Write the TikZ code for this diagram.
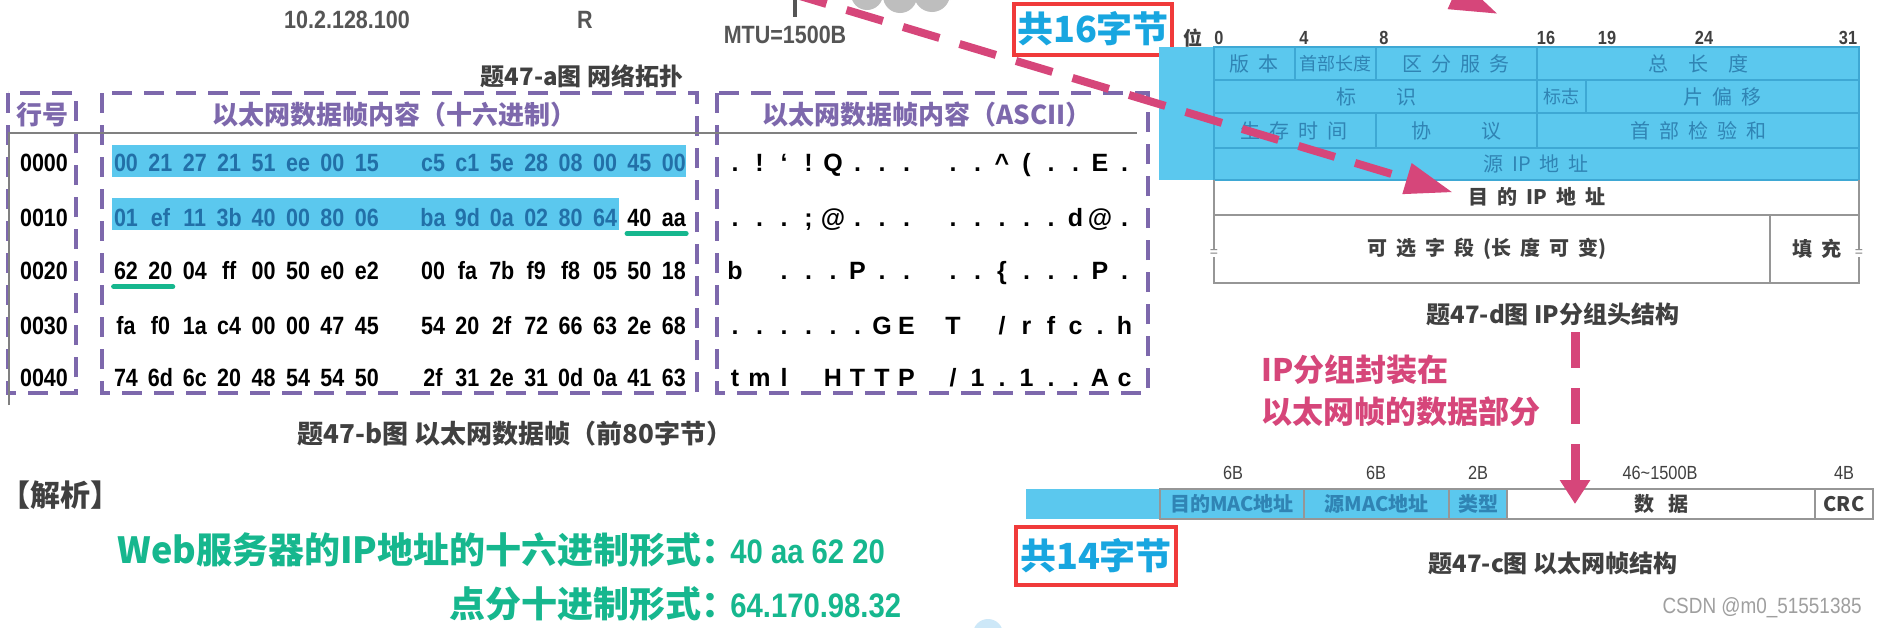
\documentclass[tikz,border=0pt]{standalone}
\usepackage{fontspec}
\setmainfont{Liberation Sans}
\newfontfamily\cjk{Noto Sans CJK SC}
\newfontfamily\narrowsans[FakeStretch=0.86]{Liberation Sans}
\usetikzlibrary{arrows.meta}

\definecolor{ipblue}{RGB}{91,200,238}
\definecolor{ipline}{RGB}{62,168,212}
\definecolor{iptext}{RGB}{48,132,180}
\definecolor{hexblue}{RGB}{34,112,168}
\definecolor{framepurple}{RGB}{125,104,172}
\definecolor{markpink}{RGB}{214,70,122}
\definecolor{ansgreen}{RGB}{22,183,142}
\definecolor{capgray}{RGB}{64,64,64}
\definecolor{boxred}{RGB}{240,58,58}
\definecolor{countblue}{RGB}{24,166,224}
\definecolor{cellgray}{RGB}{150,150,150}
\definecolor{cloudgray}{RGB}{190,190,190}
\definecolor{topogray}{RGB}{85,85,85}
\definecolor{blobblue}{RGB}{205,232,248}

\newcommand{\ipgap}{\hspace{0.45em}}

\tikzset{
  purplebox/.style={draw=framepurple, line width=2pt, dash pattern=on 10pt off 6pt},
  purplehead/.style={font=\cjk\bfseries\fontsize{13}{15}\selectfont, text=framepurple, inner sep=0pt},
  caption/.style={font=\cjk\bfseries\fontsize{12}{14}\selectfont, text=capgray, inner sep=0pt},
  topotext/.style={font=\narrowsans\bfseries\fontsize{12.5}{14}\selectfont, text=topogray, inner sep=0pt},
  rowlab/.style={font=\narrowsans\bfseries\fontsize{12.5}{14}\selectfont, inner sep=0pt, anchor=base},
  hexbyte/.style={font=\narrowsans\bfseries\fontsize{12.5}{14}\selectfont, inner sep=0pt, anchor=base},
  asciichar/.style={font=\bfseries\fontsize{12.5}{14}\selectfont, inner sep=0pt, anchor=base},
  greenmark/.style={ansgreen, line width=2.5pt, line cap=round},
  bitlab/.style={font=\narrowsans\bfseries\fontsize{9.5}{11}\selectfont, text=capgray, inner sep=0pt},
  iptxt/.style={font=\cjk\fontsize{10}{12}\selectfont, text=iptext, inner sep=0pt},
  ipdark/.style={font=\cjk\bfseries\fontsize{10}{12}\selectfont, text=capgray, inner sep=0pt},
  breakmark/.style={fill=white, inner sep=0.5pt, font=\fontsize{7}{8}\selectfont, text=gray},
  ethcell/.style={draw=cellgray, line width=0.8pt, minimum height=15pt, inner sep=0pt,
    font=\cjk\bfseries\fontsize{10}{12}\selectfont, text=capgray},
  ethblue/.style={ethcell, fill=ipblue, text=iptext},
  sizelab/.style={font=\narrowsans\fontsize{9.5}{11}\selectfont, text=capgray, inner sep=0pt},
  countbox/.style={draw=boxred, line width=2pt, text=countblue, inner sep=0pt,
    font=\cjk\bfseries\fontsize{18}{20}\selectfont, minimum width=79pt, minimum height=25.5pt},
  pinknote/.style={font=\cjk\bfseries\fontsize{15.5}{21}\selectfont, text=markpink, align=left, inner sep=0pt},
  answer/.style={font=\cjk\bfseries\fontsize{18}{20}\selectfont, text=ansgreen, inner sep=0pt},
  ansval/.style={font=\narrowsans\bfseries\fontsize{17}{19}\selectfont, text=ansgreen, inner sep=0pt},
  pinkarrow/.style={markpink, line width=4pt, dash pattern=on 19pt off 10.5pt,
    -{Triangle[length=24pt,width=15pt]}},
  vpinkarrow/.style={markpink, line width=4.5pt, dash pattern=on 18pt off 10pt,
    -{Triangle[length=12pt,width=14.5pt]}}
}

\begin{document}
\begin{tikzpicture}[x=0.5pt,y=-0.5pt]
\useasboundingbox (0,0) rectangle (1877,627);
\fill[white] (0,0) rectangle (1877,627);
\clip (0,0) rectangle (1877,627);

% network topology (cut off at the top)
\fill[cloudgray] (867,-6) circle[radius=16] (900,-4) circle[radius=17]
  (932,-6) circle[radius=18] (950,-12) circle[radius=12] (905,-20) circle[radius=22];
\node[topotext] (hostip) at (347,20) {10.2.128.100};
\node[topotext] (router) at (585,20) {R};
\node[topotext] (mtu) at (785,35) {MTU=1500B};
\coordinate (linktop) at (795,0);
\coordinate (linkend) at (795,17);
\draw[topogray, line width=1.7pt] (linktop) -- (linkend);
\node[caption] (capa) at (582,76) {题47-a图 网络拓扑};

% frame dump
\draw[purplebox] (8,93) rectangle (76,393);
\draw[purplebox] (102,93) rectangle (697,393);
\draw[purplebox] (717,93) rectangle (1148,393);
\draw[gray, line width=0.6pt] (9,405) -- (9,133) -- (1137,133);
\node[purplehead] (hrow) at (43,115) {行号};
\node[purplehead] (hhex) at (394,115) {以太网数据帧内容（十六进制）};
\node[purplehead] (hasc) at (927,115) {以太网数据帧内容（ASCII）};

\fill[ipblue] (112,145) rectangle (686,177);
\fill[ipblue] (112,198) rectangle (619,230);

\foreach \lab/\yy/\nb/\bytes in {
  0000/162/16/{00,21,27,21,51,ee,00,15,c5,c1,5e,28,08,00,45,00},
  0010/217/14/{01,ef,11,3b,40,00,80,06,ba,9d,0a,02,80,64,40,aa},
  0020/270/0/{62,20,04,ff,00,50,e0,e2,00,fa,7b,f9,f8,05,50,18},
  0030/325/0/{fa,f0,1a,c4,00,00,47,45,54,20,2f,72,66,63,2e,68},
  0040/377/0/{74,6d,6c,20,48,54,54,50,2f,31,2e,31,0d,0a,41,63}}{
  \node[rowlab] (r\lab) at (44,\yy+9) {\lab};
  \foreach \b [count=\k from 0] in \bytes {
    \ifnum\k<\nb \def\bcol{hexblue}\else\def\bcol{black}\fi
    \pgfmathsetmacro{\bx}{126+34.4*\k+31.8*(\k>7)}
    \node[hexbyte, text=\bcol] (b\lab-\k) at (\bx,\yy+9) {\b};
  }
}
\draw[greenmark] ([yshift=-3.5pt]b0010-14.south west) -- ([yshift=-3.5pt]b0010-15.south east);
\draw[greenmark] ([yshift=-3.5pt]b0020-0.south west) -- ([yshift=-3.5pt]b0020-1.south east);

% ASCII column
\foreach \c [count=\k from 0] in {.,!,‘,!,Q,.,.,.,.,.,\textasciicircum,{(},.,.,E,.}
  {\pgfmathsetmacro{\ax}{735+24.5*\k+22*(\k>7)} \node[asciichar] (a0000-\k) at (\ax,171) {\c};}
\foreach \c [count=\k from 0] in {.,.,.,;,@,.,.,.,.,.,.,.,.,d,@,.}
  {\pgfmathsetmacro{\ax}{735+24.5*\k+22*(\k>7)} \node[asciichar] (a0010-\k) at (\ax,226) {\c};}
\foreach \c [count=\k from 0] in {b,{},.,.,.,P,.,.,.,.,\{,.,.,.,P,.}
  {\pgfmathsetmacro{\ax}{735+24.5*\k+22*(\k>7)} \node[asciichar] (a0020-\k) at (\ax,279) {\c};}
\foreach \c [count=\k from 0] in {.,.,.,.,.,.,G,E,T,{},/,r,f,c,.,h}
  {\pgfmathsetmacro{\ax}{735+24.5*\k+22*(\k>7)} \node[asciichar] (a0030-\k) at (\ax,334) {\c};}
\foreach \c [count=\k from 0] in {t,m,l,{},H,T,T,P,/,1,.,1,.,.,A,c}
  {\pgfmathsetmacro{\ax}{735+24.5*\k+22*(\k>7)} \node[asciichar] (a0040-\k) at (\ax,386) {\c};}

\node[caption, font=\cjk\bfseries\fontsize{13}{15}\selectfont] (capb) at (515,434) {题47-b图 以太网数据帧（前80字节）};

% analysis
\node[font=\cjk\bfseries\fontsize{15}{17}\selectfont, text=capgray, inner sep=0pt, anchor=west] (analysis) at (0,495) {【解析】};
\node[answer, anchor=base east] (ansq) at (738,563) {Web服务器的IP地址的十六进制形式：};
\node[ansval, anchor=base west] (ansv) at (730,563) {40 aa 62 20};
\node[answer, anchor=base east] (dotq) at (738,617) {点分十进制形式：};
\node[ansval, anchor=base west] (dotv) at (730,617) {64.170.98.32};

% IP header
\node[countbox] (cnt16) at (1093,29) {共16字节};
\node[font=\cjk\bfseries\fontsize{9.5}{11}\selectfont, text=capgray, inner sep=0pt] (bitword) at (1193,38) {位};
\foreach \b/\x in {0/1219,4/1304,8/1384,16/1546,19/1607,24/1704,31/1848}
  \node[bitlab] (bit\b) at (\x,38) {\b};
\fill[ipblue] (1159,47) rectangle (1859,180);
\draw[ipline, line width=0.7pt] (1214,47) rectangle (1859,180)
  (1214,80) -- (1859,80) (1214,113) -- (1859,113) (1214,148) -- (1859,148)
  (1295,47) -- (1295,80) (1376,47) -- (1376,80) (1537,47) -- (1537,148)
  (1586,80) -- (1586,113) (1376,113) -- (1376,148);
\draw[cellgray, line width=0.7pt] (1214,180) -- (1214,283) -- (1859,283) -- (1859,180)
  (1214,215) -- (1859,215) (1770,215) -- (1770,283);
\node[iptxt] (ver) at (1254,64) {版\ipgap 本};
\node[iptxt, font=\cjk\fontsize{9}{11}\selectfont] (ihl) at (1335,64) {首部长度};
\node[iptxt] (tos) at (1456,64) {区\ipgap 分\ipgap 服\ipgap 务};
\node[iptxt] (totlen) at (1698,64) {总\hspace{1em}长\hspace{1em}度};
\node[iptxt] (ident) at (1376,97) {标\hspace{2em}识};
\node[iptxt, font=\cjk\fontsize{9}{11}\selectfont] (flags) at (1561,97) {标志};
\node[iptxt] (fragoff) at (1722,97) {片\ipgap 偏\ipgap 移};
\node[iptxt] (ttl) at (1294,131) {生\ipgap 存\ipgap 时\ipgap 间};
\node[iptxt] (proto) at (1456,131) {协\hspace{2.5em}议};
\node[iptxt] (hcksum) at (1698,131) {首\ipgap 部\ipgap 检\ipgap 验\ipgap 和};
\node[iptxt] (srcip) at (1536,164) {源\ipgap IP\ipgap 地\ipgap 址};
\node[ipdark] (dstip) at (1537,197) {目\ipgap 的\ipgap IP\ipgap 地\ipgap 址};
\node[ipdark] (opts) at (1487,249) {可\ipgap 选\ipgap 字\ipgap 段\ipgap (长\ipgap 度\ipgap 可\ipgap 变)};
\node[ipdark] (pad) at (1817,249) {填\ipgap 充};
\node[breakmark] (brkl) at (1214,253) {=};
\node[breakmark] (brkr) at (1859,253) {=};
\node[caption] (capd) at (1553,314) {题47-d图 IP分组头结构};

\node[pinknote, anchor=west] (encap) at (1261,391) {IP分组封装在\\以太网帧的数据部分};

% Ethernet frame
\node[sizelab] (sz1) at (1233,473) {6B};
\node[sizelab] (sz2) at (1376,473) {6B};
\node[sizelab] (sz3) at (1478,473) {2B};
\node[sizelab] (sz4) at (1660,473) {46\textasciitilde1500B};
\node[sizelab] (sz5) at (1844,473) {4B};
\fill[ipblue] (1026,489) rectangle (1160,519);
\node[ethblue, minimum width=72pt] (dmac) at (1232,504) {目的MAC地址};
\node[ethblue, minimum width=72.5pt] (smac) at (1376.5,504) {源MAC地址};
\node[ethblue, minimum width=29pt] (etype) at (1478,504) {类型};
\node[ethcell, minimum width=154pt] (edata) at (1661,504) {数\hspace{0.7em}据};
\node[ethcell, minimum width=29pt] (ecrc) at (1844,504) {CRC};
\node[countbox, minimum width=80pt, minimum height=29pt] (cnt14) at (1096,556) {共14字节};
\node[caption] (capc) at (1553,563) {题47-c图 以太网帧结构};

\node[font=\narrowsans\fontsize{11}{13}\selectfont, text=gray!75, inner sep=0pt, anchor=east] (wm) at (1862,608) {CSDN @m0\_51551385};
\fill[blobblue] (988,634) circle[radius=15];

% pink arrows
\coordinate (pinkstart) at (790,-7);
\draw[pinkarrow, shorten >=8pt] (pinkstart) -- (dstip.west);
\coordinate (pinkB0) at (1400,-30);
\coordinate (pinkB1) at (1498,14);
\draw[pinkarrow] (pinkB0) -- (pinkB1);
\coordinate (vtop) at (1575,332);
\draw[vpinkarrow] (vtop) -- (vtop |- edata.center);
\end{tikzpicture}
\end{document}
